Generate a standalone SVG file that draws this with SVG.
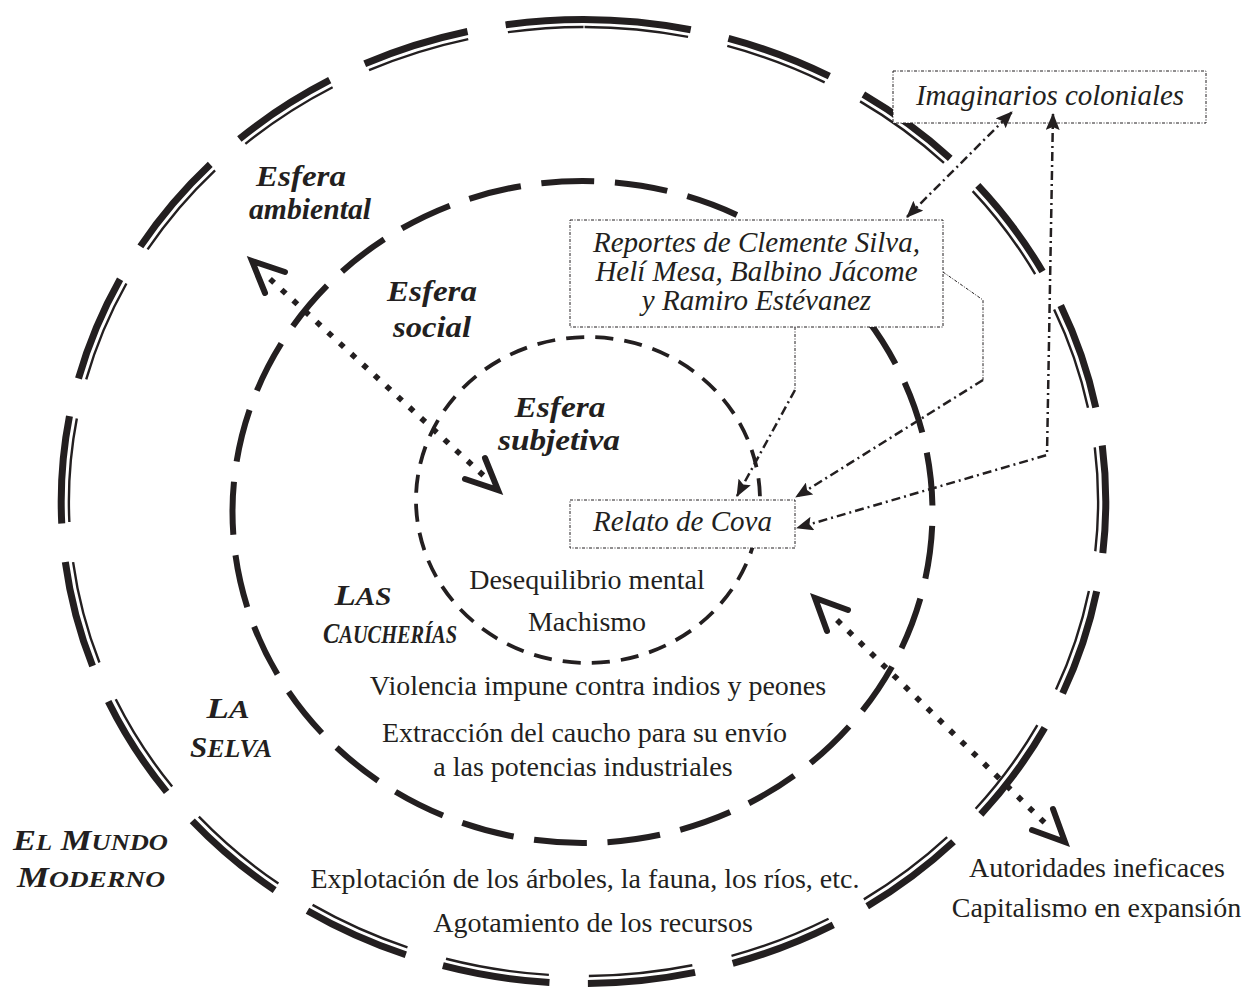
<svg xmlns="http://www.w3.org/2000/svg" width="1246" height="990" viewBox="0 0 1246 990">
<defs>
<style>
.ring{fill:none;stroke:#231f20;stroke-linecap:butt}
.outer{stroke-width:7;stroke-dasharray:34.19 12.25}
.outer-thin{stroke-width:2.4;stroke-dasharray:33.5 12.94;stroke-dashoffset:-0.35}
.mid{stroke-width:6;stroke-dasharray:72 28;stroke-dashoffset:81}
.inner{stroke-width:3.8;stroke-dasharray:62 38;stroke-dashoffset:75}
.box{fill:#ffffff;stroke:#231f20;stroke-width:1;stroke-dasharray:3 1.5 1 1.5}
.dd{fill:none;stroke:#231f20;stroke-width:2.5;stroke-dasharray:9 4 2 4}
.thin{fill:none;stroke:#231f20;stroke-width:1;stroke-dasharray:3 1.5 1 1.5}
.dots{fill:none;stroke:#231f20;stroke-width:5.6;stroke-dasharray:5.6 10.2}
.chev{fill:none;stroke:#231f20;stroke-width:6;stroke-linecap:round;stroke-linejoin:miter}
.lbl{font-family:"Liberation Serif","Times New Roman",serif;font-weight:bold;font-style:italic;font-size:30px;fill:#231f20;text-anchor:middle}
.sc{font-size:25px}
.sc2{font-size:23px}
.txt{font-family:"Liberation Serif","Times New Roman",serif;font-size:28px;fill:#231f20;text-anchor:middle}
.it{font-family:"Liberation Serif","Times New Roman",serif;font-style:italic;font-size:29px;fill:#231f20;text-anchor:middle}
</style>
<marker id="ah" viewBox="0 0 17 14" refX="16" refY="7" markerWidth="17" markerHeight="14" markerUnits="userSpaceOnUse" orient="auto-start-reverse">
<path d="M0,0 L17,7 L0,14 L3,7 z" fill="#231f20"/>
</marker>
</defs>
<rect width="1246" height="990" fill="#ffffff"/>

<g id="ring-mundo-moderno">
<path class="ring outer" pathLength="1000" d="M583.5,19.5 A522.3,482 0 0 1 583.5,983.5 A522.3,482 0 0 1 583.5,19.5"/>
<path class="ring outer-thin" pathLength="1000" d="M583.5,27 A514.8,474.5 0 0 1 583.5,976 A514.8,474.5 0 0 1 583.5,27"/>
</g>
<g id="ring-selva">
<ellipse class="ring mid" pathLength="2900" cx="582.5" cy="512" rx="350" ry="331"/>
</g>
<g id="ring-caucherias">
<ellipse class="ring inner" pathLength="3600" cx="588" cy="500" rx="172" ry="163"/>
</g>

<g id="label-ambiental">
<text class="lbl" x="301" y="186" textLength="90" lengthAdjust="spacingAndGlyphs">Esfera</text>
<text class="lbl" x="310" y="219" textLength="122" lengthAdjust="spacingAndGlyphs">ambiental</text>
</g>
<g id="label-social">
<text class="lbl" x="432" y="301" textLength="90" lengthAdjust="spacingAndGlyphs">Esfera</text>
<text class="lbl" x="432" y="337" textLength="78" lengthAdjust="spacingAndGlyphs">social</text>
</g>
<g id="label-subjetiva">
<text class="lbl" x="560" y="417" textLength="91" lengthAdjust="spacingAndGlyphs">Esfera</text>
<text class="lbl" x="559" y="450" textLength="122" lengthAdjust="spacingAndGlyphs">subjetiva</text>
</g>
<g id="label-caucherias">
<text class="lbl" x="363" y="605" textLength="57" lengthAdjust="spacingAndGlyphs">L<tspan class="sc">AS</tspan></text>
<text class="lbl" x="390" y="643" textLength="134" lengthAdjust="spacingAndGlyphs">C<tspan class="sc">AUCHERÍAS</tspan></text>
</g>
<g id="label-selva">
<text class="lbl" x="228" y="718" textLength="43" lengthAdjust="spacingAndGlyphs">L<tspan class="sc">A</tspan></text>
<text class="lbl" x="231" y="757" textLength="82" lengthAdjust="spacingAndGlyphs">S<tspan class="sc">ELVA</tspan></text>
</g>
<g id="label-mundo">
<text class="lbl" x="90.5" y="850" textLength="155" lengthAdjust="spacingAndGlyphs">E<tspan class="sc2">L</tspan> M<tspan class="sc2">UNDO</tspan></text>
<text class="lbl" x="91" y="887" textLength="148" lengthAdjust="spacingAndGlyphs">M<tspan class="sc2">ODERNO</tspan></text>
</g>

<g id="text-subjetiva">
<text class="txt" x="587" y="589">Desequilibrio mental</text>
<text class="txt" x="587" y="631">Machismo</text>
</g>
<g id="text-social">
<text class="txt" x="598" y="695">Violencia impune contra indios y peones</text>
<text class="txt" x="584.5" y="742">Extracción del caucho para su envío</text>
<text class="txt" x="583" y="776">a las potencias industriales</text>
</g>
<g id="text-ambiental">
<text class="txt" x="585" y="888">Explotación de los árboles, la fauna, los ríos, etc.</text>
<text class="txt" x="593" y="932">Agotamiento de los recursos</text>
</g>
<g id="text-mundo">
<text class="txt" x="1097" y="877">Autoridades ineficaces</text>
<text class="txt" x="1096.5" y="917">Capitalismo en expansión</text>
</g>

<g id="node-imaginarios">
<rect class="box" x="893" y="71" width="313" height="52"/>
<text class="it" x="1050" y="105">Imaginarios coloniales</text>
</g>
<g id="node-reportes">
<rect class="box" x="570" y="220" width="373" height="107"/>
<text class="it" x="756.5" y="252">Reportes de Clemente Silva,</text>
<text class="it" x="756.5" y="281">Helí Mesa, Balbino Jácome</text>
<text class="it" x="756.5" y="310">y Ramiro Estévanez</text>
</g>
<g id="node-relato">
<rect class="box" x="570" y="500" width="225" height="48"/>
<text class="it" x="682.5" y="531">Relato de Cova</text>
</g>

<g id="connectors">
<line class="dots" x1="270" y1="279" x2="484" y2="476"/>
<path class="chev" d="M285,272 L252,261 L265,293"/>
<path class="chev" d="M465,479 L498,490 L485,458"/>
<line class="dots" x1="837" y1="620" x2="1048" y2="826"/>
<path class="chev" d="M848,610 L815,598 L827,631"/>
<path class="chev" d="M1032,830 L1065,842 L1053,809"/>
<path class="dd" d="M907,217 L1012,112" marker-start="url(#ah)" marker-end="url(#ah)"/>
<path class="dd" d="M1053,114 L1047,455 L797,528" marker-start="url(#ah)" marker-end="url(#ah)"/>
<path class="thin" d="M943,272 L983,300 L983,380"/>
<path class="dd" d="M983,380 L796,497" marker-end="url(#ah)"/>
<path class="thin" d="M795,327 L795,390"/>
<path class="dd" d="M795,390 L737,496" marker-end="url(#ah)"/>
</g>
</svg>
